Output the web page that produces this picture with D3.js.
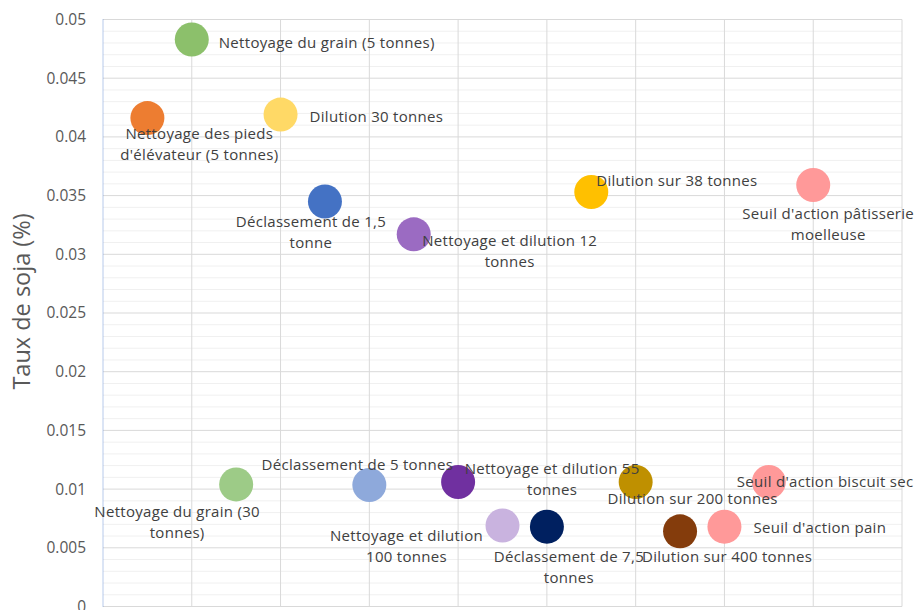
<!DOCTYPE html>
<html><head><meta charset="utf-8">
<script src="https://cdn.jsdelivr.net/npm/d3@7/dist/d3.min.js"></script>
<style>
html,body{margin:0;padding:0;background:#fff;}
svg{display:block;font-family:"Open Sans",sans-serif;}
</style></head>
<body><svg id="chart" width="918" height="610"></svg>
<script>
// ---- data ----
const names = [
  "Nettoyage des pieds d'élévateur (5 tonnes)",
  "Nettoyage du grain (5 tonnes)",
  "Nettoyage du grain (30 tonnes)",
  "Dilution 30 tonnes",
  "Déclassement de 1,5 tonne",
  "Déclassement de 5 tonnes",
  "Nettoyage et dilution 12 tonnes",
  "Nettoyage et dilution 55 tonnes",
  "Nettoyage et dilution 100 tonnes",
  "Déclassement de 7,5 tonnes",
  "Dilution sur 38 tonnes",
  "Dilution sur 200 tonnes",
  "Dilution sur 400 tonnes",
  "Seuil d'action pain",
  "Seuil d'action biscuit sec",
  "Seuil d'action pâtisserie moelleuse"
];
const xValues = [0.5, 1, 1.5, 2, 2.5, 3, 3.5, 4, 4.5, 5, 5.5, 6, 6.5, 7, 7.5, 8];
const yValues = [0.0416, 0.0483, 0.0104, 0.0419, 0.0345, 0.01035, 0.0317, 0.0106,
                 0.0069, 0.0068, 0.0353, 0.0106, 0.0064, 0.0068, 0.0106, 0.0359];
const colors = ["#ED7D31", "#8CC06B", "#9DCB87", "#FFD966", "#4472C4", "#8EA9DB",
                "#9B6BC2", "#7030A0", "#C9B3DF", "#002060", "#FFC000", "#BF9000",
                "#843C0C", "#FF9999", "#FF9999", "#FF9999"];
const yTicks = [0, 0.005, 0.01, 0.015, 0.02, 0.025, 0.03, 0.035, 0.04, 0.045, 0.05];
const yTickLabels = ["0", "0.005", "0.01", "0.015", "0.02", "0.025", "0.03", "0.035", "0.04", "0.045", "0.05"];
const xGrid = [0, 1, 2, 3, 4, 5, 6, 7, 8, 9];
const yTitle = "Taux de soja (%)";

// ---- label layout (offsets from bubble centre) ----
const labelLayout = [
  {dx: 52, dy: 16, anchor: "middle", brk: 3},
  {dx: 27, dy: 3, anchor: "start"},
  {dx: -59, dy: 27, anchor: "middle", brk: 4},
  {dx: 29, dy: 2, anchor: "start"},
  {dx: -14, dy: 20, anchor: "middle", brk: 3},
  {dx: -12, dy: -20, anchor: "middle"},
  {dx: 96, dy: 6, anchor: "middle", brk: 4},
  {dx: 94, dy: -13, anchor: "middle", brk: 4},
  {dx: -96, dy: 10, anchor: "middle", brk: 3},
  {dx: 22, dy: 30, anchor: "middle", brk: 3},
  {dx: 5, dy: -11, anchor: "start"},
  {dx: 57, dy: 17, anchor: "middle"},
  {dx: 47, dy: 25, anchor: "middle"},
  {dx: 29, dy: 1, anchor: "start"},
  {dx: -32, dy: 0, anchor: "start"},
  {dx: 15, dy: 29, anchor: "middle", brk: 3}
];

const svg = d3.select("#chart");
const pLeft = 103, pRight = 902, pTop = 19.5, pBottom = 606.5;
const x = d3.scaleLinear().domain([0, 9]).range([pLeft, pRight]);
const y = d3.scaleLinear().domain([0, 0.05]).range([pBottom, pTop]);

// minor gridlines
const minor = d3.range(0, 0.0505, 0.001).filter(v => !yTicks.some(t => Math.abs(t - v) < 1e-9));
svg.append("g").selectAll("line").data(minor).join("line")
  .attr("x1", pLeft).attr("x2", pRight)
  .attr("y1", d => y(d)).attr("y2", d => y(d))
  .attr("stroke", "#f0f0f0").attr("stroke-width", 1);

// major horizontal gridlines
svg.append("g").selectAll("line").data(yTicks).join("line")
  .attr("x1", pLeft).attr("x2", pRight)
  .attr("y1", d => y(d)).attr("y2", d => y(d))
  .attr("stroke", "#d9d9d9").attr("stroke-width", 1);

// vertical gridlines
svg.append("g").selectAll("line").data(xGrid.slice(1)).join("line")
  .attr("x1", d => x(d)).attr("x2", d => x(d))
  .attr("y1", pTop).attr("y2", pBottom)
  .attr("stroke", "#d9d9d9").attr("stroke-width", 1);

// left dotted axis line
svg.append("line")
  .attr("x1", pLeft).attr("x2", pLeft).attr("y1", pTop).attr("y2", pBottom)
  .attr("stroke", "#6f95d6").attr("stroke-width", 1).attr("stroke-dasharray", "1,1");

// y axis
const yAxis = d3.axisLeft(y).tickValues(yTicks)
  .tickFormat((d, i) => yTickLabels[i]).tickSize(0).tickPadding(17);
const ga = svg.append("g").attr("transform", `translate(${pLeft},0)`).call(yAxis);
ga.select(".domain").remove();
ga.selectAll("text").attr("fill", "#595959").style("font-size", "15.5px")
  .style("font-family", "'Open Sans', sans-serif");

// y title
svg.append("text")
  .attr("transform", `translate(30,301.5) rotate(-90)`)
  .attr("text-anchor", "middle")
  .attr("fill", "#595959").style("font-size", "23.5px")
  .text(yTitle);

const pts = names.map((n, i) => ({name: n, x: xValues[i], y: yValues[i], color: colors[i], lay: labelLayout[i]}));

// bubbles
svg.append("g").selectAll("circle").data(pts).join("circle")
  .attr("cx", d => x(d.x)).attr("cy", d => y(d.y)).attr("r", 17)
  .attr("fill", d => d.color);

// labels
const lg = svg.append("g").style("font-size", "15px").style("letter-spacing", "0.3px").attr("fill", "#404040");
pts.forEach(d => {
  const words = d.name.split(" ");
  const lines = d.lay.brk ? [words.slice(0, d.lay.brk).join(" "), words.slice(d.lay.brk).join(" ")] : [d.name];
  const t = lg.append("text")
    .attr("text-anchor", d.lay.anchor)
    .attr("x", x(d.x) + d.lay.dx)
    .attr("y", y(d.y) + d.lay.dy);
  lines.forEach((l, k) => {
    t.append("tspan").attr("x", x(d.x) + d.lay.dx)
      .attr("dy", k === 0 ? "0.35em" : "21px").text(l);
  });
});
</script></body></html>
